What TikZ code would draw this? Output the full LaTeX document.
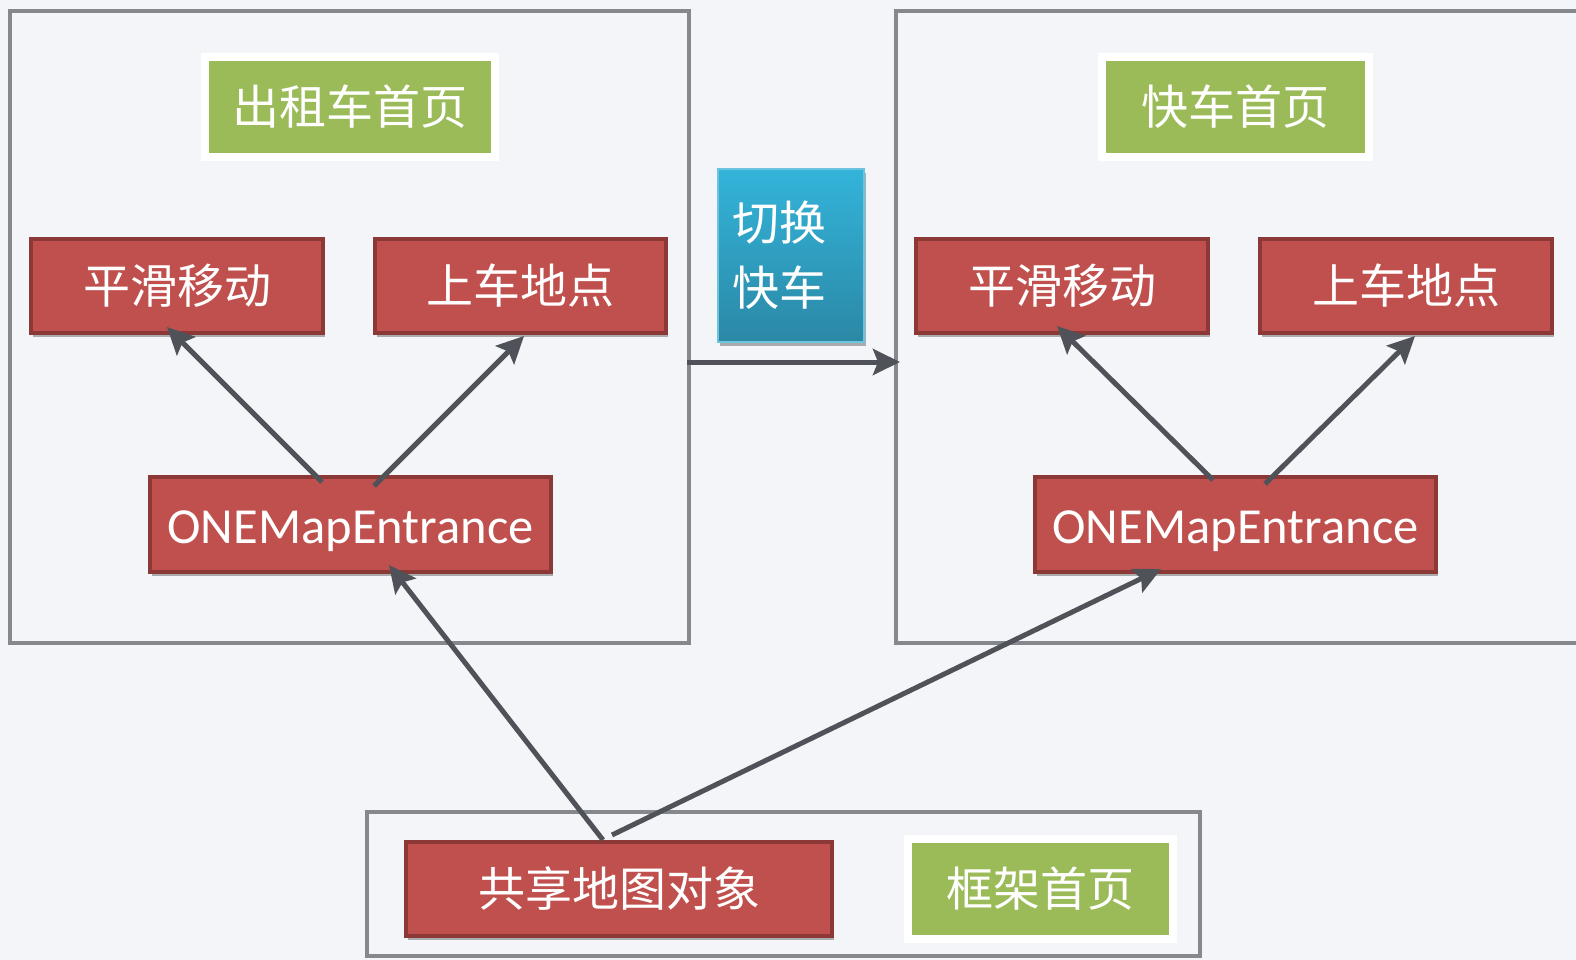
\documentclass[tikz,border=0pt]{standalone}
\usepackage{fontspec}
\setmainfont{Carlito}
\newfontfamily\cjk{Noto Sans CJK SC}
\usetikzlibrary{shadows,arrows.meta,calc}
\definecolor{bg}{HTML}{F4F5F9}
\definecolor{framegray}{HTML}{85898E}
\definecolor{redfill}{HTML}{C0504D}
\definecolor{redborder}{HTML}{8C3836}
\definecolor{greenfill}{HTML}{9BBB59}
\definecolor{bluetop}{HTML}{33B4DA}
\definecolor{bluebot}{HTML}{2B88A5}
\definecolor{blueborder}{HTML}{6CC3DD}
\definecolor{arrowgray}{HTML}{4F5359}
\tikzset{
  frame/.style={draw=framegray, line width=4.5pt, inner sep=0pt, outer sep=0pt, rectangle},
  redbox/.style={draw=redborder, fill=redfill, line width=4.5pt, inner sep=0pt, outer sep=0pt,
    text=white, font=\cjk\fontsize{47}{56}\selectfont,
    drop shadow={shadow xshift=2pt, shadow yshift=-4pt, opacity=0.3, fill=black}},
  greenbox/.style={draw=white, fill=greenfill, line width=8pt, inner sep=0pt, outer sep=0pt,
    text=white, font=\cjk\fontsize{47}{56}\selectfont, minimum height=100pt,
    drop shadow={shadow xshift=2pt, shadow yshift=-4pt, opacity=0.25, fill=black}},
  bluebox/.style={draw=blueborder, top color=bluetop, bottom color=bluebot, line width=1.5pt,
    inner sep=0pt, outer sep=0pt, text=white, font=\cjk\fontsize{47}{65}\selectfont,
    minimum width=146pt, minimum height=173pt, text width=118pt, align=left,
    drop shadow={shadow xshift=2pt, shadow yshift=-4pt, opacity=0.3, fill=black}},
  latin/.style={font=\fontsize{50.5}{60}\selectfont, text height=38pt, text depth=0pt},
  arr/.style={-{Stealth[length=27pt,width=26pt,inset=5pt]}, line width=5pt, draw=arrowgray},
}
\begin{document}
\begin{tikzpicture}[x=1pt,y=-1pt]
\useasboundingbox (0,0) rectangle (1576,960);
\fill[bg] (0,0) rectangle (1576,960);

% frames
\node[frame, minimum width=679pt, minimum height=632pt] (lf) at (349.5,327) {};
\node[frame, minimum width=684pt, minimum height=632pt] (rf) at (1238,327) {};
\node[frame, minimum width=833pt, minimum height=144pt] (bf) at (783.5,884) {};

% left panel
\node[greenbox, minimum width=290pt] (lg) at (350,107) {出租车首页};
\node[redbox, minimum width=292pt, minimum height=94pt] (ls) at (177,286) {平滑移动};
\node[redbox, minimum width=291pt, minimum height=94pt] (lp) at (520.5,286) {上车地点};
\node[redbox, latin, minimum width=401pt, minimum height=95pt] (lo) at (350.5,524.5) {ONEMapEntrance};

% switch box
\node[bluebox] (sw) at (791,255.5) {切换\\快车};

% right panel
\node[greenbox, minimum width=267pt] (rg) at (1235.5,107) {快车首页};
\node[redbox, minimum width=292pt, minimum height=94pt] (rs) at (1062,286) {平滑移动};
\node[redbox, minimum width=292pt, minimum height=94pt] (rp) at (1406,286) {上车地点};
\node[redbox, latin, minimum width=401pt, minimum height=95pt] (ro) at (1235.5,524.5) {ONEMapEntrance};

% bottom panel
\node[redbox, minimum width=426pt, minimum height=94pt] (sh) at (619,889) {共享地图对象};
\node[greenbox, minimum width=265pt] (fg) at (1040.5,889) {框架首页};

% arrows
\draw[arr] ([xshift=-28.5pt,yshift=-5pt]lo.north) -- ([xshift=-10pt,yshift=6pt]ls.south);
\draw[arr] ([xshift=23.5pt,yshift=-9pt]lo.north) -- ([xshift=3.5pt,yshift=-3pt]lp.south);
\draw[arr] ([xshift=-22.5pt,yshift=-3pt]ro.north) -- ([xshift=-5pt,yshift=7pt]rs.south);
\draw[arr] ([xshift=29.5pt,yshift=-7pt]ro.north) -- ([xshift=9pt,yshift=-3pt]rp.south);
\draw[arr] ([xshift=-16pt,yshift=2pt]sh.north) -- ([xshift=38.5pt,yshift=7pt]lo.south);
\draw[arr] ([xshift=-7pt,yshift=7pt]sh.north) -- ([xshift=-74.5pt,yshift=3pt]ro.south);
\draw[arr] ([xshift=-2pt,yshift=-35pt]lf.east) -- ([xshift=4pt,yshift=-35pt]rf.west);
\end{tikzpicture}
\end{document}
